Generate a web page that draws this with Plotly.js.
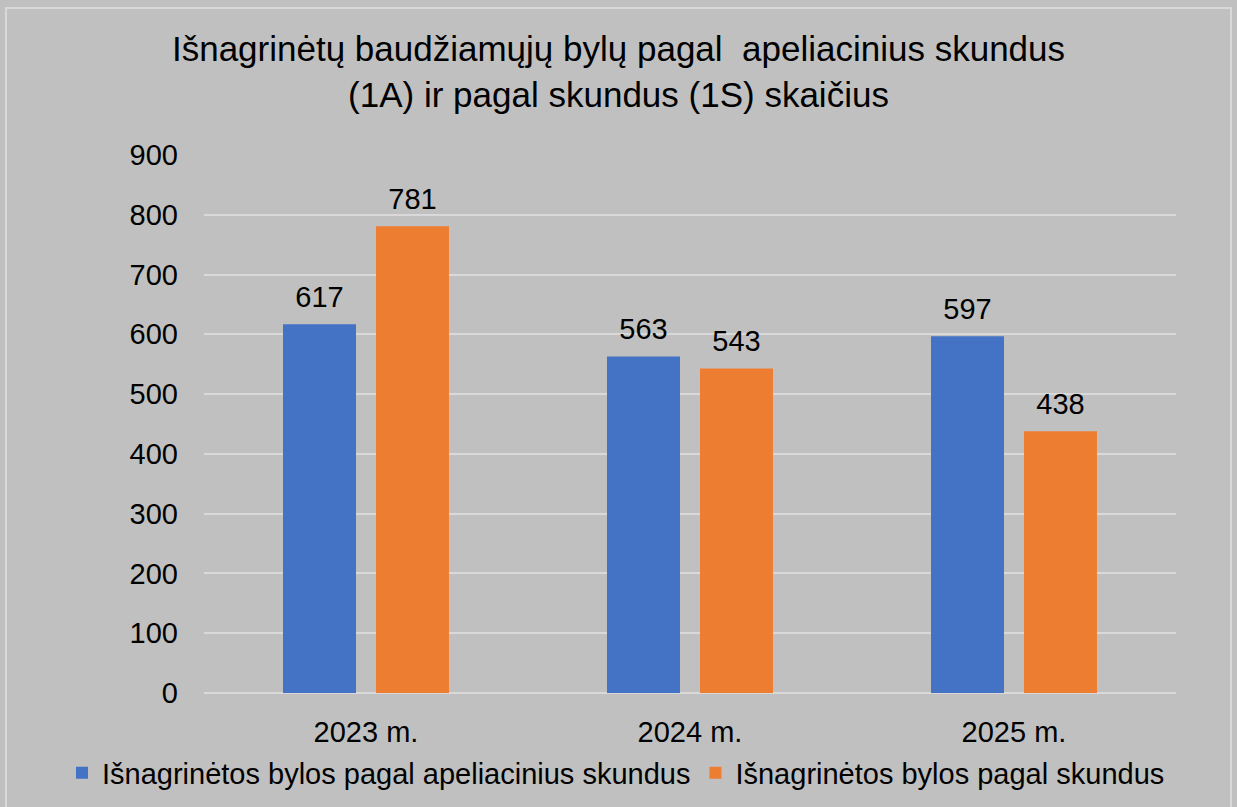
<!DOCTYPE html>
<html>
<head>
<meta charset="utf-8">
<script src="https://cdn.plot.ly/plotly-3.0.1.min.js"></script>
<style>html,body{margin:0;padding:0;background:#C0C0C0;}#chart{width:1237px;height:807px;}</style>
</head>
<body>
<div id="chart"></div>
<script>
const categories = ["2023 m.", "2024 m.", "2025 m."];
const seriesNames = ["Išnagrinėtos bylos pagal apeliacinius skundus", "Išnagrinėtos bylos pagal skundus"];
const appealValues = [617, 563, 597];
const complaintValues = [781, 543, 438];
const yTicks = [0, 100, 200, 300, 400, 500, 600, 700, 800, 900];

const W = 1237, H = 807;
const M = {l: 204, r: 61, t: 155, b: 114, autoexpand: false};
const pw = W - M.l - M.r, ph = H - M.t - M.b;
const px = v => (v - M.l) / pw;
const py = v => 1 - (v - M.t) / ph;

const font = {family: "Liberation Sans, Arial, sans-serif", color: "#000000"};
const colors = ["#4472C4", "#ED7D31"];
const series = [appealValues, complaintValues];

const traces = [];
series.forEach((vals, i) => {
  traces.push({type: "bar", name: seriesNames[i], x: categories, y: vals,
    marker: {color: colors[i]}, offsetgroup: "g" + i, alignmentgroup: "a"});
});
series.forEach((vals, i) => {
  traces.push({type: "scatter", mode: "markers+text", showlegend: false, x: categories, y: vals,
    text: vals.map(String), textposition: "top center", textfont: Object.assign({size: 29}, font),
    marker: {size: 14, opacity: 0}, offsetgroup: "g" + i, alignmentgroup: "a", cliponaxis: false, hoverinfo: "skip"});
});

const layout = {
  width: W, height: H,
  paper_bgcolor: "#C0C0C0", plot_bgcolor: "#C0C0C0",
  margin: M,
  font: Object.assign({size: 29}, font),
  title: {text: "Išnagrinėtų baudžiamųjų bylų pagal  apeliacinius skundus<br>(1A) ir pagal skundus (1S) skaičius",
          font: Object.assign({size: 35}, font), x: 0.5, xref: "container", xanchor: "center",
          y: 1 - 61 / H, yref: "container", yanchor: "top"},
  barmode: "group", bargap: 0.426, bargroupgap: 0.215,
  scattermode: "group", scattergap: 0.426,
  xaxis: {showgrid: false, zeroline: false, showline: false, ticks: "", tickangle: 0, automargin: false,
          tickfont: Object.assign({size: 29}, font), ticklabelstandoff: 19, fixedrange: true},
  yaxis: {range: [0, 900], tickvals: yTicks, ticktext: yTicks.map(String), automargin: false,
          showgrid: true, gridcolor: "#D9D9D9", gridwidth: 2, zeroline: true, zerolinecolor: "#D9D9D9", zerolinewidth: 2,
          showline: false, ticks: "", tickfont: Object.assign({size: 29}, font), ticklabelstandoff: 25},
  showlegend: true,
  legend: {orientation: "h", x: px(62), xref: "paper", xanchor: "left", y: py(773), yanchor: "middle",
           font: Object.assign({size: 29}, font), bgcolor: "rgba(0,0,0,0)", itemwidth: 30, tracegroupgap: 0},
  shapes: [{type: "rect", xref: "paper", yref: "paper",
            x0: px(6), x1: px(1231), y0: py(8), y1: py(812),
            line: {color: "#D9D9D9", width: 2}, fillcolor: "rgba(0,0,0,0)", layer: "below"}]
};

Plotly.newPlot("chart", traces, layout, {displayModeBar: false, staticPlot: true});
</script>
</body>
</html>
